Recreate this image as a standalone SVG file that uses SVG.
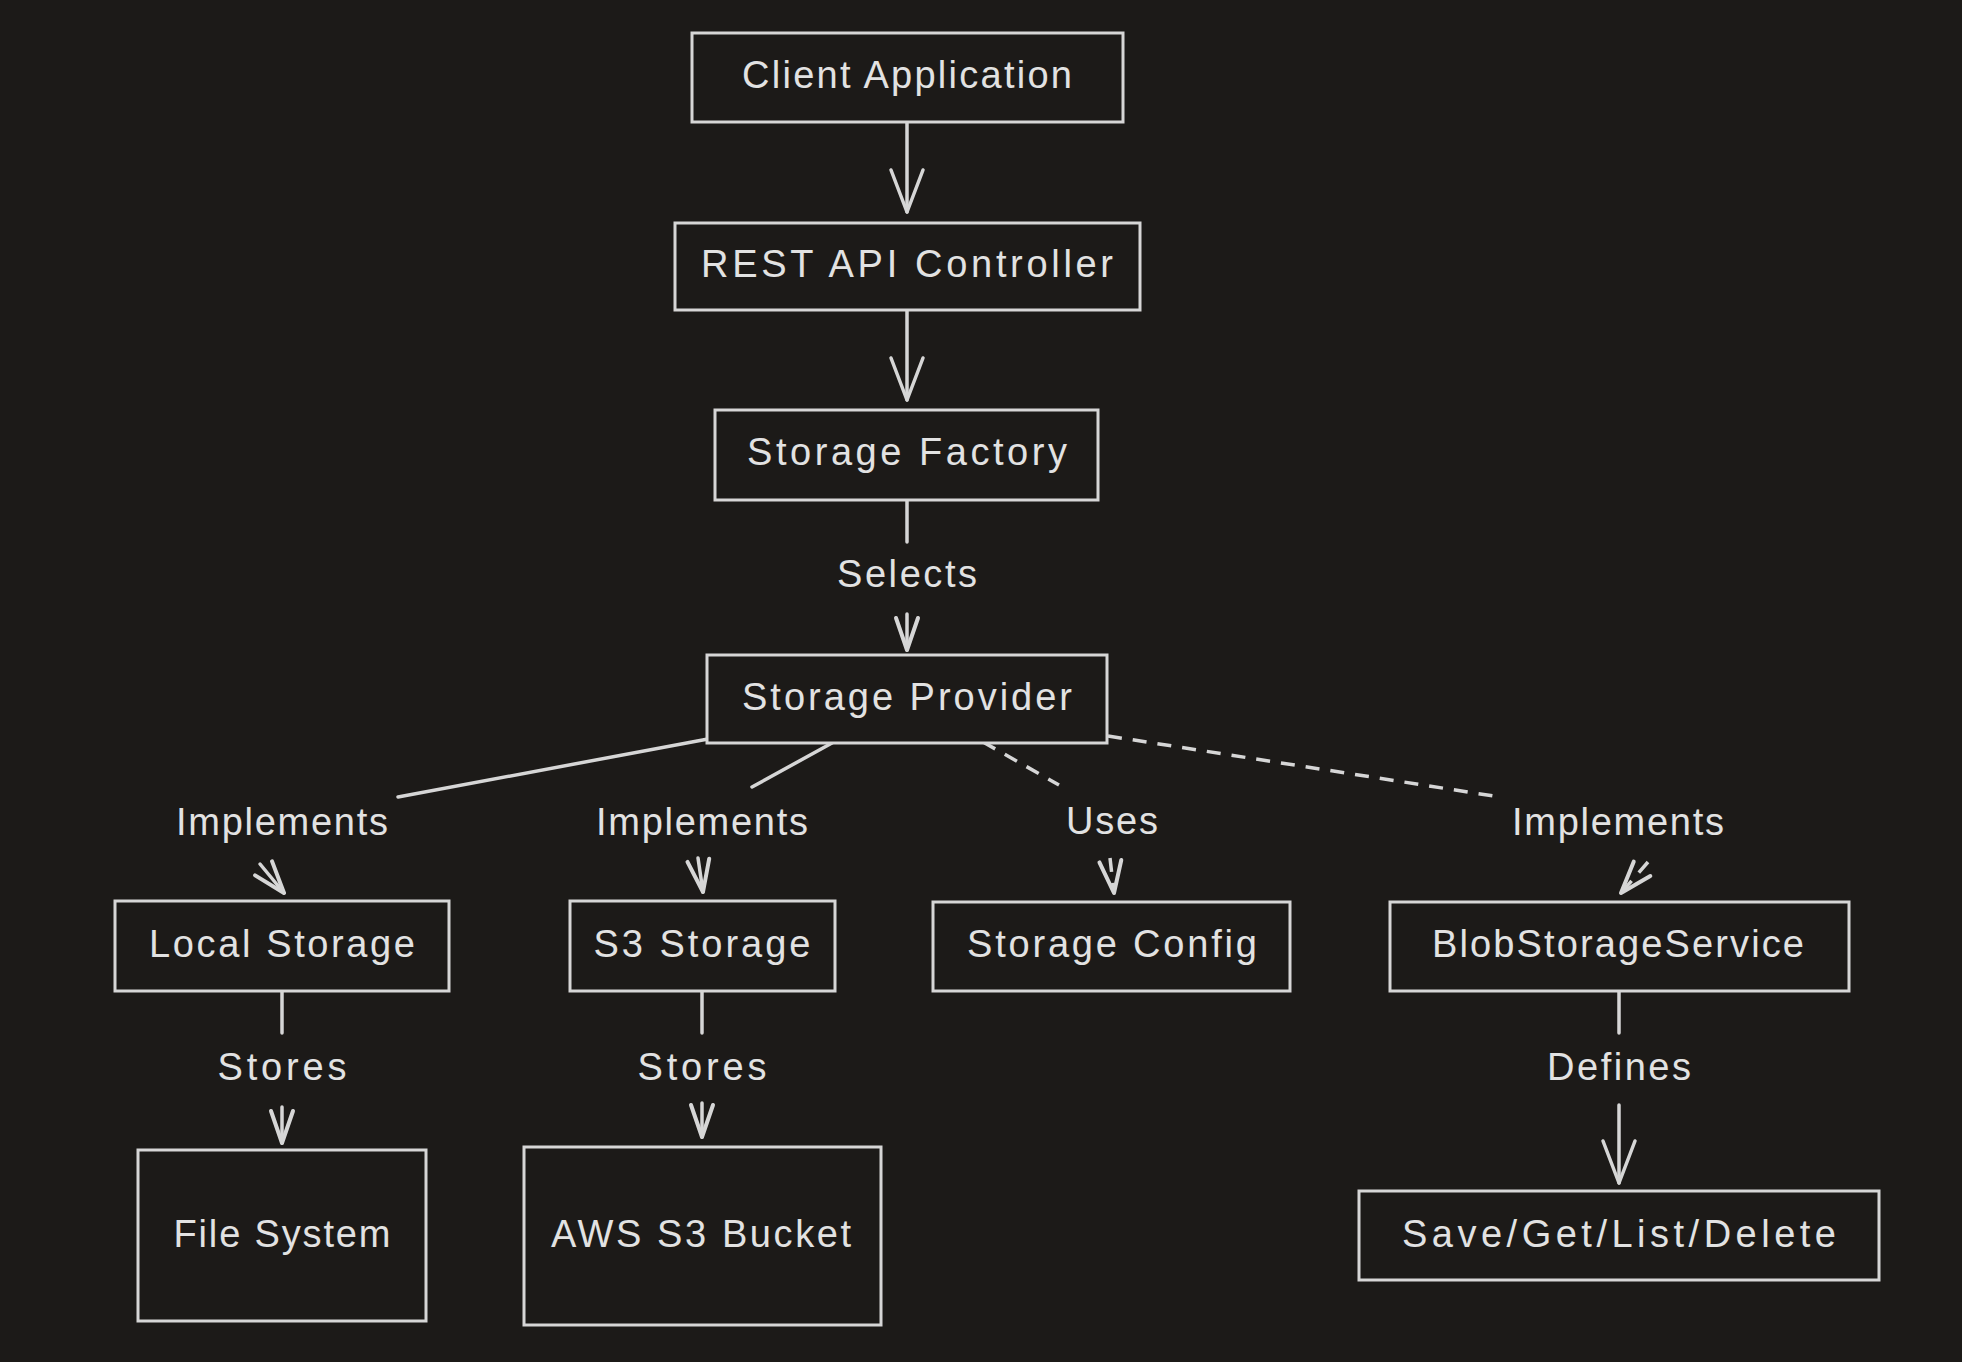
<svg xmlns="http://www.w3.org/2000/svg" width="1962" height="1362" viewBox="0 0 1962 1362">
<style>
.bg{fill:#1c1a18}
.node rect{fill:#1c1a18;stroke:#d6d6d6;stroke-width:3}
text{font-family:"Liberation Sans",Arial,sans-serif;font-size:38px;fill:#e2e2e2;text-anchor:middle}
.edge{fill:none;stroke:#d6d6d6;stroke-width:3.5;stroke-linecap:round}
.dash{stroke-dasharray:14 11;stroke-linecap:butt}
</style>
<defs>
<marker id="big" viewBox="-46 -20 50 40" refX="0" refY="0" markerWidth="50" markerHeight="40" markerUnits="userSpaceOnUse" orient="auto" overflow="visible">
<path d="M-42,-16 L0,0 L-42,16" fill="none" stroke="#d6d6d6" stroke-width="3.5" stroke-linejoin="round" stroke-linecap="round" stroke-dasharray="none"/>
</marker>
<marker id="small" viewBox="-36 -16 40 32" refX="0" refY="0" markerWidth="40" markerHeight="32" markerUnits="userSpaceOnUse" orient="auto" overflow="visible">
<path d="M-32,-11 L0,0 L-32,11" fill="none" stroke="#d6d6d6" stroke-width="4" stroke-linejoin="round" stroke-linecap="round" stroke-dasharray="none"/>
</marker>
</defs>
<rect class="bg" x="0" y="0" width="1962" height="1362"/>

<g id="connectors">
<path class="edge" d="M907,122 V212" marker-end="url(#big)"/>
<path class="edge" d="M907,310 V400" marker-end="url(#big)"/>
<path class="edge" d="M907,500 V542"/>
<path class="edge" d="M907,614 V650" marker-end="url(#small)"/>
<path class="edge" d="M708,739 L398,797"/>
<path class="edge" d="M260,864 L284,893" marker-end="url(#small)"/>
<path class="edge" d="M832,743 L752,787"/>
<path class="edge" d="M698,858 L703,892" marker-end="url(#small)"/>
<path class="edge dash" d="M983,742 L1059,785"/>
<path class="edge dash" d="M1110,858 L1114,893" marker-end="url(#small)"/>
<path class="edge dash" d="M1108,736 L1500,797"/>
<path class="edge dash" d="M1648,862 L1621,893" marker-end="url(#small)"/>
<path class="edge" d="M282,991 V1033"/>
<path class="edge" d="M282,1107 V1143" marker-end="url(#small)"/>
<path class="edge" d="M702,991 V1033"/>
<path class="edge" d="M702,1103 V1137" marker-end="url(#small)"/>
<path class="edge" d="M1619,991 V1033"/>
<path class="edge" d="M1619,1105 V1183" marker-end="url(#big)"/>
<g id="edge-labels">
<text x="907" y="587" textLength="140" lengthAdjust="spacing">Selects</text>
<text x="282" y="835" textLength="212" lengthAdjust="spacing">Implements</text>
<text x="702" y="835" textLength="212" lengthAdjust="spacing">Implements</text>
<text x="1112" y="834" textLength="92" lengthAdjust="spacing">Uses</text>
<text x="1618" y="835" textLength="212" lengthAdjust="spacing">Implements</text>
<text x="282" y="1080" textLength="129" lengthAdjust="spacing">Stores</text>
<text x="702" y="1080" textLength="129" lengthAdjust="spacing">Stores</text>
<text x="1619" y="1080" textLength="144" lengthAdjust="spacing">Defines</text>
</g>
</g>

<g id="client" class="node"><rect x="692" y="33" width="431" height="89"/><text x="907" y="88" textLength="330" lengthAdjust="spacing">Client Application</text></g>
<g id="rest" class="node"><rect x="675" y="223" width="465" height="87"/><text x="907" y="277" textLength="412" lengthAdjust="spacing">REST API Controller</text></g>
<g id="factory" class="node"><rect x="715" y="410" width="383" height="90"/><text x="907" y="465" textLength="320" lengthAdjust="spacing">Storage Factory</text></g>
<g id="provider" class="node"><rect x="707" y="655" width="400" height="88"/><text x="907" y="710" textLength="330" lengthAdjust="spacing">Storage Provider</text></g>
<g id="local" class="node"><rect x="115" y="901" width="334" height="90"/><text x="282" y="957" textLength="266" lengthAdjust="spacing">Local Storage</text></g>
<g id="s3" class="node"><rect x="570" y="901" width="265" height="90"/><text x="702" y="957" textLength="217" lengthAdjust="spacing">S3 Storage</text></g>
<g id="config" class="node"><rect x="933" y="902" width="357" height="89"/><text x="1112" y="957" textLength="290" lengthAdjust="spacing">Storage Config</text></g>
<g id="blob" class="node"><rect x="1390" y="902" width="459" height="89"/><text x="1618" y="957" textLength="372" lengthAdjust="spacing">BlobStorageService</text></g>
<g id="filesystem" class="node"><rect x="138" y="1150" width="288" height="171"/><text x="282" y="1247" textLength="217" lengthAdjust="spacing">File System</text></g>
<g id="bucket" class="node"><rect x="524" y="1147" width="357" height="178"/><text x="701" y="1247" textLength="300" lengthAdjust="spacing">AWS S3 Bucket</text></g>
<g id="ops" class="node"><rect x="1359" y="1191" width="520" height="89"/><text x="1619" y="1247" textLength="434" lengthAdjust="spacing">Save/Get/List/Delete</text></g>
</svg>
